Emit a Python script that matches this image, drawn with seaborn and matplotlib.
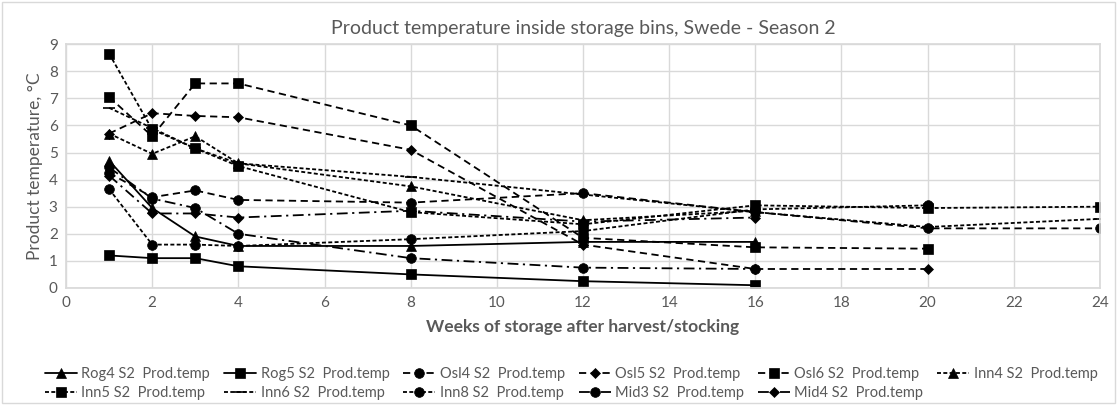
import numpy as np
import pandas as pd
import matplotlib
matplotlib.use("Agg")
import matplotlib.pyplot as plt
import seaborn as sns

nan = np.nan
weeks = [1, 2, 3, 4, 8, 12, 16, 20, 24]

rog4 = [4.7, 2.95, 1.9, 1.55, 1.55, 1.7, 1.7, nan, nan]
rog5 = [1.2, 1.1, 1.1, 0.8, 0.5, 0.25, 0.1, nan, nan]
osl4 = [4.25, 3.35, 3.6, 3.25, 3.15, 3.5, 2.8, 2.2, 2.2]
osl5 = [5.7, 6.45, 6.35, 6.3, 5.1, 1.6, 0.7, 0.7, nan]
osl6 = [7.05, 5.6, 7.55, 7.55, 6.0, 1.85, 1.5, 1.45, nan]
inn4 = [5.7, 4.95, 5.6, 4.6, 3.75, 2.5, 2.85, nan, nan]
inn5 = [8.65, 5.85, 5.15, 4.5, 2.8, 2.35, 3.05, 2.95, 3.0]
inn6 = [6.65, 5.9, 5.15, 4.6, 4.1, 3.45, 2.8, 2.25, 2.55]
inn8 = [3.65, 1.6, 1.6, 1.55, 1.8, 2.1, 2.9, 3.05, nan]
mid3 = [4.45, 3.3, 2.95, 2.0, 1.1, 0.75, 0.7, nan, nan]
mid4 = [4.15, 2.75, 2.75, 2.6, 2.85, 2.45, 2.6, nan, nan]

names = ["Rog4 S2  Prod.temp", "Rog5 S2  Prod.temp", "Osl4 S2  Prod.temp",
         "Osl5 S2  Prod.temp", "Osl6 S2  Prod.temp", "Inn4 S2  Prod.temp",
         "Inn5 S2  Prod.temp", "Inn6 S2  Prod.temp", "Inn8 S2  Prod.temp",
         "Mid3 S2  Prod.temp", "Mid4 S2  Prod.temp"]
values = [rog4, rog5, osl4, osl5, osl6, inn4, inn5, inn6, inn8, mid3, mid4]

solid = (None, None)
dash = (4, 2.5)
short = (2.2, 1.3)
dashdot = (6, 2.5, 1.2, 2.5)
line_styles = [solid, solid, dash, dash, dash, short, short, short, short, dashdot, dashdot]
markers = ["^", "s", "o", "D", "s", "^", "s", "_", "o", "o", "D"]
msizes = [6.5, 6.5, 7, 5, 6.5, 6.5, 6.5, 8, 7, 7, 5]

sns.set_theme(style="white")
plt.rcParams["font.family"] = ["Lato", "DejaVu Sans"]
grey = "#595959"

fig = plt.figure(figsize=(11.19, 4.05), dpi=100)
ax = fig.add_axes([0.059, 0.289, 0.924, 0.602])

handles = []
for name, vals, ls, mk, ms in zip(names, values, line_styles, markers, msizes):
    df = pd.DataFrame({"week": weeks, "temp": vals}).dropna()
    sns.lineplot(data=df, x="week", y="temp", ax=ax, color="black", marker=mk,
                 markersize=ms, markeredgecolor="black", markeredgewidth=1.2 if mk == "_" else 0.5,
                 linewidth=1.3, label=name)
    line = ax.lines[-1]
    if ls != solid:
        line.set_dashes(ls)
    handles.append(line)

ax.set_xlim(0, 24)
ax.set_ylim(0, 9)
ax.set_xticks(range(0, 25, 2))
ax.set_yticks(range(0, 10))
ax.grid(True, color="#d9d9d9", linewidth=1)
for s in ax.spines.values():
    s.set_color("#d9d9d9")
ax.tick_params(colors=grey, labelsize=11, length=0, pad=6)
ax.set_title("Product temperature inside storage bins, Swede - Season 2",
             color=grey, fontsize=14, pad=7)
ax.set_xlabel("Weeks of storage after harvest/stocking", color=grey,
              fontsize=12.5, fontweight="bold", labelpad=6)
ax.set_ylabel("Product temperature, °C", color=grey, fontsize=12.5, labelpad=4)

# legend filled row by row (matplotlib fills columns first)
order = [0, 6, 1, 7, 2, 8, 3, 9, 4, 10, 5]
ax.legend([handles[i] for i in order], [names[i] for i in order], ncol=6,
          loc="upper left", bbox_to_anchor=(-0.033, -0.27), frameon=False,
          fontsize=10.5, handlelength=2.2, handletextpad=0.3, columnspacing=0.95,
          labelspacing=0.35, labelcolor=grey)

fig.patches.append(plt.Rectangle((0.002, 0.005), 0.994, 0.99, transform=fig.transFigure,
                                 fill=False, edgecolor="#d9d9d9", linewidth=1))

fig.savefig("out.png", dpi=100)
